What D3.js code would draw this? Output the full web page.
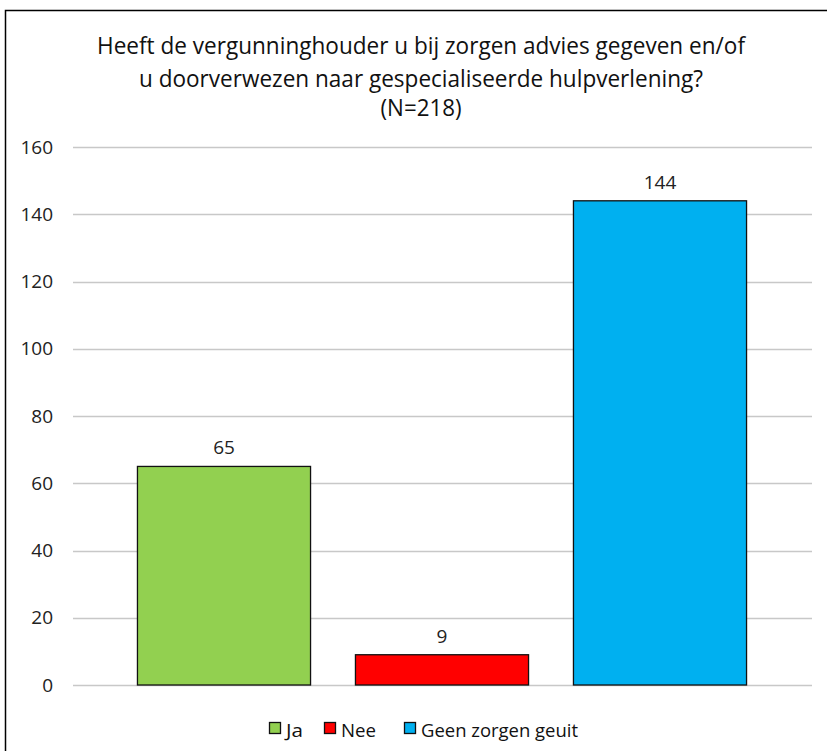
<!DOCTYPE html>
<html>
<head>
<meta charset="utf-8">
<script src="https://cdn.jsdelivr.net/npm/d3@7"></script>
<style>
  body { margin: 0; background: #fff; }
  svg { display: block; }
</style>
</head>
<body>
<div id="chart"></div>
<script>
// chart data
const categories = ["Ja", "Nee", "Geen zorgen geuit"];
const counts = [65, 9, 144];
const colors = ["#92d050", "#ff0000", "#00b0f0"];
const yTicks = [0, 20, 40, 60, 80, 100, 120, 140, 160];
const titleLines = [
  "Heeft de vergunninghouder u bij zorgen advies gegeven en/of",
  "u doorverwezen naar gespecialiseerde hulpverlening?",
  "(N=218)"
];

const width = 827, height = 751;
const font = "'Open Sans', sans-serif";

const svg = d3.select('#chart')
  .append('svg')
  .attr('width', width)
  .attr('height', height);

svg.append('rect')
  .attr('width', width).attr('height', height)
  .attr('fill', '#fff');

// outer frame
svg.append('rect')
  .attr('x', 5.5).attr('y', 10.5)
  .attr('width', 840).attr('height', 800)
  .attr('fill', 'none')
  .attr('stroke', '#000')
  .attr('stroke-width', 1.5);

// title (condensed to match the original narrow face)
const titleY = [54, 87, 116];
const titleW = [648, 564, 81];
titleLines.forEach((t, i) => {
  svg.append('text')
    .attr('x', 421).attr('y', titleY[i])
    .attr('text-anchor', 'middle')
    .attr('font-family', font)
    .attr('font-size', 23)
    .attr('fill', '#111')
    .attr('textLength', titleW[i])
    .attr('lengthAdjust', 'spacingAndGlyphs')
    .text(t);
});

// scales
const x = d3.scaleBand()
  .domain(categories)
  .range([115, 769])
  .paddingInner(0.206)
  .paddingOuter(0.103);

const y = d3.scaleLinear()
  .domain([0, 160])
  .range([685, 147]);

// gridlines
svg.append('g')
  .selectAll('line')
  .data(yTicks)
  .enter()
  .append('line')
  .attr('x1', 73).attr('x2', 812)
  .attr('y1', d => Math.round(y(d)) + 0.5)
  .attr('y2', d => Math.round(y(d)) + 0.5)
  .attr('stroke', '#c8c8c8')
  .attr('stroke-width', 1.3);

// y axis labels
const yAxis = svg.append('g')
  .attr('transform', 'translate(53,0)')
  .call(d3.axisLeft(y).tickValues(yTicks).tickSize(0).tickPadding(0));
yAxis.select('.domain').remove();
yAxis.selectAll('text')
  .attr('font-family', font)
  .attr('font-size', 19)
  .attr('fill', '#222');

// bars
svg.selectAll('.bar')
  .data(counts)
  .enter()
  .append('rect')
  .attr('class', 'bar')
  .attr('x', (d, i) => x(categories[i]))
  .attr('width', x.bandwidth())
  .attr('y', d => y(d))
  .attr('height', d => y(0) - y(d))
  .attr('fill', (d, i) => colors[i])
  .attr('stroke', '#111')
  .attr('stroke-width', 1.3);

// value labels
svg.selectAll('.val')
  .data(counts)
  .enter()
  .append('text')
  .attr('class', 'val')
  .attr('x', (d, i) => x(categories[i]) + x.bandwidth() / 2)
  .attr('y', d => y(d) - 12)
  .attr('text-anchor', 'middle')
  .attr('font-family', font)
  .attr('font-size', 19)
  .attr('fill', '#222')
  .text(d => d);

// legend
const legendX = [269, 324, 404];
const legendW = [17, 35, 157];
const legend = svg.append('g');
categories.forEach((c, i) => {
  legend.append('rect')
    .attr('x', legendX[i] + 0.5).attr('y', 722.5)
    .attr('width', 11).attr('height', 11)
    .attr('fill', colors[i])
    .attr('stroke', '#111')
    .attr('stroke-width', 1.3);
  legend.append('text')
    .attr('x', legendX[i] + 17).attr('y', 737)
    .attr('font-family', font)
    .attr('font-size', 19)
    .attr('fill', '#111')
    .attr('textLength', legendW[i])
    .attr('lengthAdjust', 'spacingAndGlyphs')
    .text(c);
});
</script>
</body>
</html>
